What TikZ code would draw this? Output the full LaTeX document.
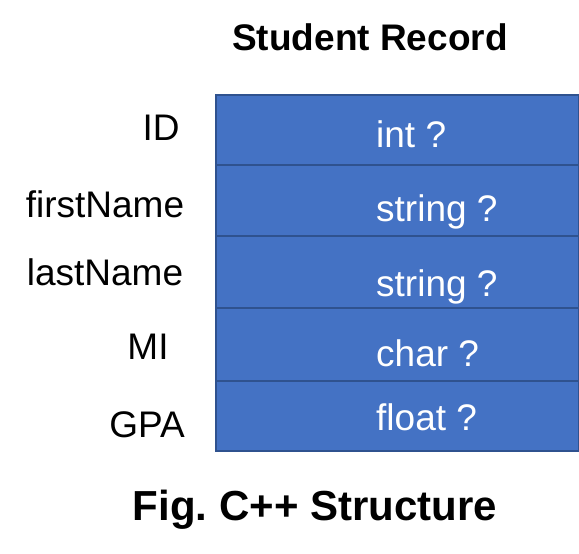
\documentclass[tikz,border=0pt]{standalone}
\usepackage{fontspec}
\setmainfont{Liberation Sans}
\definecolor{cellblue}{HTML}{4472C4}
\definecolor{cellline}{HTML}{2F528F}
\tikzset{
  cell/.style={draw=cellline, line width=1.5pt, fill=cellblue, anchor=north west,
    minimum width=363pt, inner sep=0pt},
  field/.style={anchor=base, inner sep=0pt, font=\fontsize{37}{40}\selectfont},
  ftype/.style={anchor=base west, inner sep=0pt, text=white, font=\fontsize{37}{40}\selectfont},
}
\begin{document}
\begin{tikzpicture}[x=1pt, y=-1pt]
  \useasboundingbox (0,0) rectangle (579,554);

  \node[field, font=\fontsize{37}{40}\selectfont\bfseries] (title) at (370,50) {Student Record};

  % the record cells
  \foreach \n/\t/\h in {id/94/70, first/164/71, last/235/72, mi/307/73, gpa/380/70}
    \node[cell, minimum height=\h pt] (\n) at (215,\t) {};

  \node[field] (idname) at (161,140) {ID};
  \node[field] (firstname) at (105,217) {firstName};
  \node[field] (lastname) at (105,285) {lastName};
  \node[field] (miname) at (148,359) {MI};
  \node[field] (gpaname) at (147,437) {GPA};

  \node[ftype] (idtype) at (376,147) {int ?};
  \node[ftype] (firsttype) at (376,221) {string ?};
  \node[ftype] (lasttype) at (376,296) {string ?};
  \node[ftype] (mitype) at (376,366) {char ?};
  \node[ftype] (gpatype) at (376,430) {float ?};

  \node[field, font=\fontsize{42}{45}\selectfont\bfseries] (caption) at (315,520) {Fig.\ C++ Structure};
\end{tikzpicture}
\end{document}
